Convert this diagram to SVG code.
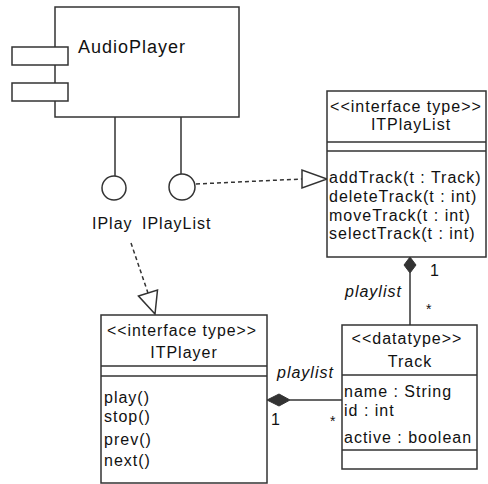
<svg xmlns="http://www.w3.org/2000/svg" width="488" height="484" viewBox="0 0 488 484">
<defs>
<style>
.box{fill:#fff;stroke:#333;stroke-width:1.5}
.ln{fill:none;stroke:#333;stroke-width:1.5}
.dash{fill:none;stroke:#333;stroke-width:1.5;stroke-dasharray:4 3}
.t{font-family:"Liberation Sans",Arial,sans-serif;font-size:16px;letter-spacing:1px;fill:#111}
.c{text-anchor:middle}
.it{font-style:italic}
.sm{font-size:14px}
.dia{fill:#333;stroke:#333;stroke-width:1}
.tri{fill:#fff;stroke:#333;stroke-width:1.5}
</style>
</defs>
<g id="connectors">
<path class="dash" d="M196,184 L302,179"/>
<polygon class="tri" points="302,170 302,188 327,179"/>
<path class="dash" d="M131,243 L148,293"/>
<polygon class="tri" points="138.5,296 157.5,290 155,314"/>
<path class="ln" d="M410,273 L410,325"/>
<polygon class="dia" points="410,257 416,265 410,273 404,265"/>
<text class="t" x="430" y="276">1</text>
<text class="t it" x="345" y="297">playlist</text>
<text class="t sm" x="426" y="314">*</text>
<path class="ln" d="M290,400 L342,400"/>
<polygon class="dia" points="267,400 279,394 290,400 279,406"/>
<text class="t it" x="277" y="378">playlist</text>
<text class="t" x="271" y="425">1</text>
<text class="t sm" x="330" y="426">*</text>
</g>
<g id="AudioPlayer">
<rect class="box" x="55" y="7" width="184" height="110"/>
<rect class="box" x="12" y="47" width="56" height="18"/>
<rect class="box" x="12" y="83" width="56" height="18"/>
<text class="t" x="78" y="53" style="font-size:18px">AudioPlayer</text>
</g>
<g id="IPlay">
<path class="ln" d="M115,117 L115,176"/>
<circle class="box" cx="114" cy="188" r="12"/>
<text class="t" x="92" y="229">IPlay</text>
</g>
<g id="IPlayList">
<path class="ln" d="M181,117 L181,174"/>
<circle class="box" cx="182" cy="187" r="13"/>
<text class="t" x="142" y="229">IPlayList</text>
</g>
<g id="ITPlayList">
<rect class="box" x="327" y="91" width="159" height="166"/>
<path class="ln" d="M327,142 L486,142 M327,151 L486,151"/>
<text class="t c" x="406" y="112" textLength="152" lengthAdjust="spacingAndGlyphs">&lt;&lt;interface type&gt;&gt;</text>
<text class="t c" x="411" y="130">ITPlayList</text>
<text class="t" x="329" y="183">addTrack(t : Track)</text>
<text class="t" x="329" y="202">deleteTrack(t : int)</text>
<text class="t" x="329" y="221">moveTrack(t : int)</text>
<text class="t" x="329" y="239">selectTrack(t : int)</text>
</g>
<g id="ITPlayer">
<rect class="box" x="101" y="315" width="166" height="168"/>
<path class="ln" d="M101,366 L267,366 M101,376 L267,376"/>
<text class="t c" x="182" y="336" textLength="150" lengthAdjust="spacingAndGlyphs">&lt;&lt;interface type&gt;&gt;</text>
<text class="t c" x="184" y="358">ITPlayer</text>
<text class="t" x="104" y="403">play()</text>
<text class="t" x="104" y="422">stop()</text>
<text class="t" x="104" y="445">prev()</text>
<text class="t" x="104" y="466">next()</text>
</g>
<g id="Track">
<rect class="box" x="342" y="325" width="135" height="144"/>
<path class="ln" d="M342,375 L477,375 M342,450 L477,450"/>
<text class="t c" x="407" y="344">&lt;&lt;datatype&gt;&gt;</text>
<text class="t c" x="410" y="367">Track</text>
<text class="t" x="344" y="397">name : String</text>
<text class="t" x="344" y="416">id : int</text>
<text class="t" x="344" y="443">active : boolean</text>
</g>
</svg>
